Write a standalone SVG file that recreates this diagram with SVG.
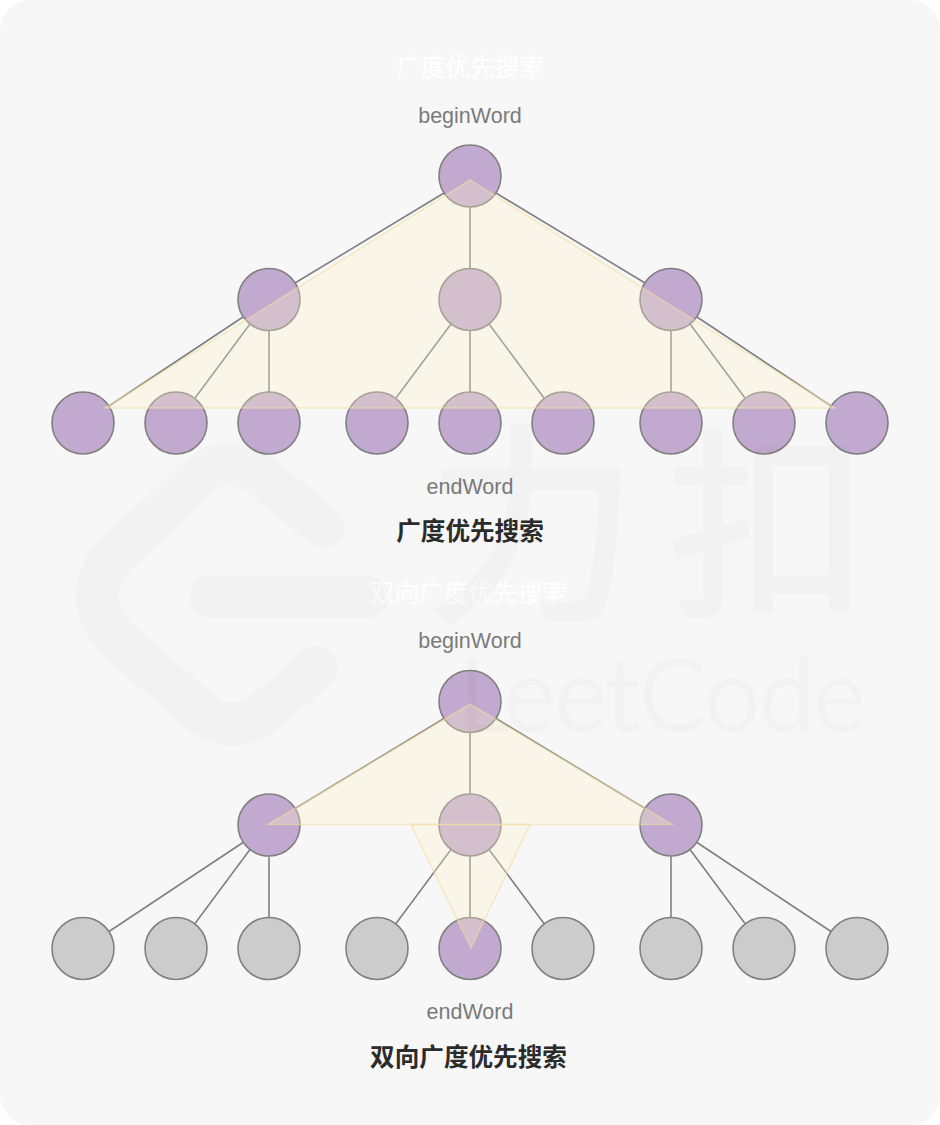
<svg xmlns="http://www.w3.org/2000/svg" width="940" height="1125" viewBox="0 0 940 1125">
<style>
.n{stroke:#808080;stroke-width:1.6}
.p{fill:#c2a9cf}
.g{fill:#cccccc}
.c line{stroke:#808080;stroke-width:1.6}
.t{fill:#fff1c6;fill-opacity:.3;stroke:#f3dca0;stroke-opacity:.55;stroke-width:1.6}
text{text-anchor:middle;font-family:"Liberation Sans","Noto Sans CJK SC",sans-serif}
.w{font-size:21.5px;fill:#7b7b7b}
.h{font-size:24.6px;font-weight:700;fill:#2b2b2b}
.f{font-size:24.6px;fill:#ffffff}
.m{fill:none;stroke:#000;stroke-linecap:round;stroke-linejoin:round}
.mt{fill:#000;stroke:#000;stroke-linejoin:round;stroke-linecap:round}
</style>
<rect width="940" height="1125" fill="#ffffff"/>
<rect id="panel" width="940" height="1125" rx="30" fill="#f7f7f7"/>
<g id="connectors-top" class="c">
<line x1="444" y1="193" x2="295" y2="283"/><line x1="470" y1="207" x2="470" y2="268"/><line x1="496" y1="193" x2="645" y2="283"/>
<line x1="243" y1="317" x2="109" y2="406"/><line x1="250" y1="324" x2="195" y2="398"/><line x1="269" y1="331" x2="269" y2="392"/>
<line x1="451" y1="324" x2="396" y2="398"/><line x1="470" y1="331" x2="470" y2="392"/><line x1="489" y1="324" x2="544" y2="398"/>
<line x1="671" y1="331" x2="671" y2="392"/><line x1="690" y1="324" x2="745" y2="398"/><line x1="697" y1="317" x2="831" y2="406"/>
</g>
<g id="connectors-bottom" class="c">
<line x1="444" y1="718.500" x2="295" y2="808.500"/><line x1="470" y1="732.500" x2="470" y2="793.500"/><line x1="496" y1="718.500" x2="645" y2="808.500"/>
<line x1="243" y1="842.500" x2="109" y2="931.500"/><line x1="250" y1="849.500" x2="195" y2="923.500"/><line x1="269" y1="856.500" x2="269" y2="917.500"/>
<line x1="451" y1="849.500" x2="396" y2="923.500"/><line x1="470" y1="856.500" x2="470" y2="917.500"/><line x1="489" y1="849.500" x2="544" y2="923.500"/>
<line x1="671" y1="856.500" x2="671" y2="917.500"/><line x1="690" y1="849.500" x2="745" y2="923.500"/><line x1="697" y1="842.500" x2="831" y2="931.500"/>
</g>
<g id="top-root"><circle class="n p" cx="470" cy="176" r="31"/></g>
<g id="top-m1"><circle class="n p" cx="269" cy="299.500" r="31"/></g>
<g id="top-m2"><circle class="n p" cx="470" cy="299.500" r="31"/></g>
<g id="top-m3"><circle class="n p" cx="671" cy="299.500" r="31"/></g>
<g id="top-l1"><circle class="n p" cx="83" cy="423" r="31"/></g>
<g id="top-l2"><circle class="n p" cx="176" cy="423" r="31"/></g>
<g id="top-l3"><circle class="n p" cx="269" cy="423" r="31"/></g>
<g id="top-l4"><circle class="n p" cx="377" cy="423" r="31"/></g>
<g id="top-l5"><circle class="n p" cx="470" cy="423" r="31"/></g>
<g id="top-l6"><circle class="n p" cx="563" cy="423" r="31"/></g>
<g id="top-l7"><circle class="n p" cx="671" cy="423" r="31"/></g>
<g id="top-l8"><circle class="n p" cx="764" cy="423" r="31"/></g>
<g id="top-l9"><circle class="n p" cx="857" cy="423" r="31"/></g>
<g id="bot-root"><circle class="n p" cx="470" cy="701.500" r="31"/></g>
<g id="bot-m1"><circle class="n p" cx="269" cy="825" r="31"/></g>
<g id="bot-m2"><circle class="n p" cx="470" cy="825" r="31"/></g>
<g id="bot-m3"><circle class="n p" cx="671" cy="825" r="31"/></g>
<g id="bot-l1"><circle class="n g" cx="83" cy="948.500" r="31"/></g>
<g id="bot-l2"><circle class="n g" cx="176" cy="948.500" r="31"/></g>
<g id="bot-l3"><circle class="n g" cx="269" cy="948.500" r="31"/></g>
<g id="bot-l4"><circle class="n g" cx="377" cy="948.500" r="31"/></g>
<g id="bot-l5"><circle class="n p" cx="470" cy="948.500" r="31"/></g>
<g id="bot-l6"><circle class="n g" cx="563" cy="948.500" r="31"/></g>
<g id="bot-l7"><circle class="n g" cx="671" cy="948.500" r="31"/></g>
<g id="bot-l8"><circle class="n g" cx="764" cy="948.500" r="31"/></g>
<g id="bot-l9"><circle class="n g" cx="857" cy="948.500" r="31"/></g>
<polygon class="t" points="470,180 105,408 835,408"/>
<polygon class="t" points="470,704 268,824.500 672,824.500"/>
<polygon class="t" points="411,824.500 530,824.500 471,948"/>
<text class="f" x="470" y="76">广度优先搜索</text>
<text class="w" x="470" y="122.500">beginWord</text>
<text class="w" x="470" y="493.500">endWord</text>
<text class="h" x="470" y="540">广度优先搜索</text>
<text class="f" x="468.500" y="602">双向广度优先搜索</text>
<text class="w" x="470" y="648">beginWord</text>
<text class="w" x="470" y="1019">endWord</text>
<text class="h" x="468.500" y="1066">双向广度优先搜索</text>
<g id="watermark" opacity="0.017">
<path class="m" stroke-width="43" d="M323 526 L262 477 Q226 450 195 480 L118 552 Q76 593 118 640 L196 708 Q232 740 270 708 L316 668"/>
<path class="m" stroke-width="43" d="M211 596.500 H367"/>
<text class="mt" x="532" y="604" stroke-width="5" style="font-size:212px;font-family:'Noto Sans CJK SC',sans-serif">力</text>
<text class="mt" x="768" y="600" stroke-width="5" style="font-size:200px;font-family:'Noto Sans CJK SC',sans-serif">扣</text>
<text class="mt" x="662" y="730" stroke-width="3" style="font-size:98px;font-family:Lato,sans-serif;font-weight:300">LeetCode</text>
</g>
</svg>
